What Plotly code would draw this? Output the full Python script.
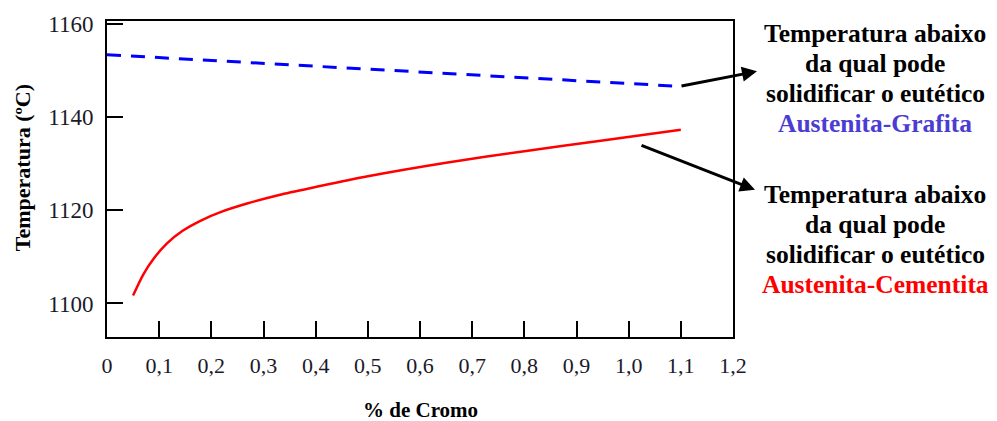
import plotly.graph_objects as go

# Data
graf_x = [0.0, 1.1]
graf_y = [1153.4, 1146.6]
cem_x = [0.05, 0.07, 0.09, 0.115, 0.145, 0.18, 0.22, 0.27, 0.33, 0.4, 0.5, 0.65, 0.8, 0.95, 1.1]
cem_y = [1101.7, 1106.3, 1109.7, 1112.9, 1115.6, 1117.8, 1119.7, 1121.5, 1123.3, 1125.0,
         1127.3, 1130.2, 1132.7, 1135.0, 1137.3]
x_ticks = [0, 0.1, 0.2, 0.3, 0.4, 0.5, 0.6, 0.7, 0.8, 0.9, 1.0, 1.1, 1.2]
x_labels = ["0", "0,1", "0,2", "0,3", "0,4", "0,5", "0,6", "0,7", "0,8", "0,9", "1,0", "1,1", "1,2"]
y_ticks = [1100, 1120, 1140, 1160]
y_labels = ["1100", "1120", "1140", "1160"]
note_lines = ["Temperatura abaixo", "da qual pode", "solidificar o eutético"]
note_names = ["Austenita-Grafita", "Austenita-Cementita"]
note_colors = ["#4b3cd2", "#ff0000"]

FONT = "Liberation Serif"

fig = go.Figure()
fig.add_trace(go.Scatter(x=graf_x, y=graf_y, mode="lines",
                         line=dict(color="#0000ff", width=3, dash="14px,10px"),
                         showlegend=False, hoverinfo="skip"))
fig.add_trace(go.Scatter(x=cem_x, y=cem_y, mode="lines",
                         line=dict(color="#ff0000", width=2.5, shape="spline", smoothing=0.8),
                         showlegend=False, hoverinfo="skip"))

L, R, T, B = 107, 264, 17, 84
W, H = 997, 421
pw, ph = W - L - R, H - T - B

def px(xp):
    return (xp - L) / pw

def py(yp):
    return (H - B - yp) / ph

annotations = []
# arrows
annotations.append(dict(x=px(757), y=py(68), xref="paper", yref="paper", text="",
                        showarrow=True, arrowhead=2, arrowsize=1, arrowwidth=3,
                        arrowcolor="black", ax=-77, ay=15))
annotations.append(dict(x=px(755), y=py(188), xref="paper", yref="paper", text="",
                        showarrow=True, arrowhead=2, arrowsize=1, arrowwidth=3,
                        arrowcolor="black", ax=-115, ay=-45))
# text blocks, one annotation per line
block_tops = [30, 193]
for bi, top in enumerate(block_tops):
    lines = note_lines + [note_names[bi]]
    for li, txt in enumerate(lines):
        color = note_colors[bi] if li == 3 else "black"
        annotations.append(dict(x=px(875), y=py(top + li * 30.3), xref="paper", yref="paper",
                                text="<b>" + txt + "</b>", showarrow=False,
                                xanchor="center", yanchor="middle",
                                font=dict(family=FONT, size=25.5, color=color)))
# axis titles
annotations.append(dict(x=px(22), y=py(166), xref="paper", yref="paper",
                        text="<b>Temperatura (ºC)</b>", textangle=-90, showarrow=False,
                        xanchor="center", yanchor="middle",
                        font=dict(family=FONT, size=22, color="black")))
annotations.append(dict(x=px(420), y=py(411), xref="paper", yref="paper",
                        text="<b>% de Cromo</b>", showarrow=False,
                        xanchor="center", yanchor="middle",
                        font=dict(family=FONT, size=21, color="black")))

fig.update_layout(
    width=W, height=H,
    margin=dict(l=L, r=R, t=T, b=B),
    paper_bgcolor="white", plot_bgcolor="white",
    font=dict(family=FONT, size=22, color="black"),
    annotations=annotations,
    xaxis=dict(range=[0, 1.2], tickvals=x_ticks, ticktext=x_labels,
               ticks="inside", ticklen=16, tickwidth=2, tickcolor="black",
               showline=True, linecolor="black", linewidth=2, mirror=True,
               showgrid=False, zeroline=False, ticklabelstandoff=8,
               tickfont=dict(family=FONT, size=22, color="#1a1a2a")),
    yaxis=dict(range=[1092.8, 1160.64], tickvals=y_ticks, ticktext=y_labels,
               ticks="inside", ticklen=16, tickwidth=2, tickcolor="black",
               showline=True, linecolor="black", linewidth=2, mirror=True,
               showgrid=False, zeroline=False, ticklabelstandoff=7,
               tickfont=dict(family=FONT, size=23, color="#1a1a2a")),
)

fig.write_html("out.html")
